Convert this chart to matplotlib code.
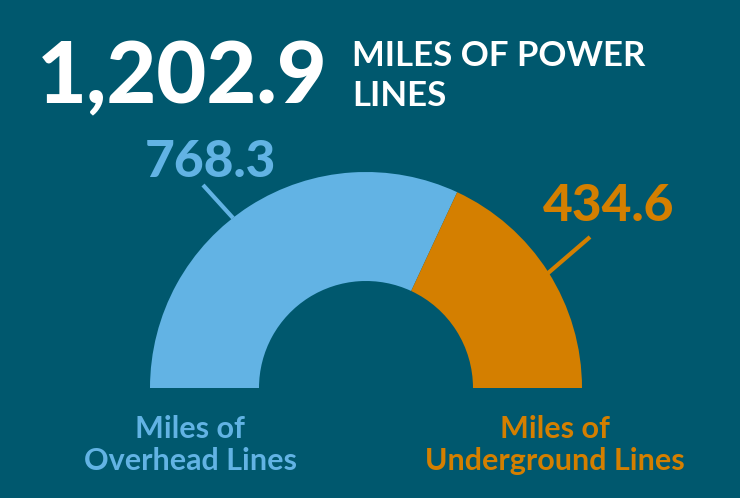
import matplotlib.pyplot as plt

# data
labels = [['Miles of', 'Overhead Lines'], ['Miles of', 'Underground Lines']]
miles = [768.3, 434.6]
total = 1202.9
colors = ['#62b3e4', '#d47f00']
bg = '#00586e'

plt.rcParams['font.family'] = ['Lato', 'DejaVu Sans']

fig = plt.figure(figsize=(7.4, 4.98), dpi=100)
fig.patch.set_facecolor(bg)
ax = fig.add_axes([0, 0, 1, 1])
ax.set_facecolor(bg)

# half donut: the hidden half carries the total so the visible part spans 180 degrees
ax.pie(miles + [total], colors=colors + ['none'], startangle=180, counterclock=False,
       radius=216, center=(366, 110), wedgeprops=dict(width=109, linewidth=0))
ax.set_xlim(0, 740)
ax.set_ylim(0, 498)
ax.set_aspect('equal')
ax.axis('off')

# headline
ax.text(37, 395, f'{total:,.1f}', color='white', fontsize=62, fontweight='black',
        va='baseline', ha='left')
ax.text(352, 432, 'MILES OF POWER', color='white', fontsize=25, fontweight='bold',
        va='baseline', ha='left')
ax.text(352, 392, 'LINES', color='white', fontsize=25, fontweight='bold',
        va='baseline', ha='left')

# values with leader lines
ax.text(210, 336, f'{miles[0]:.1f}', color=colors[0], fontsize=37, fontweight='black',
        ha='center', va='center')
ax.plot([203, 233], [313, 280], color=colors[0], lw=3, solid_capstyle='butt')
ax.text(609, 292, f'{miles[1]:.1f}', color=colors[1], fontsize=37, fontweight='black',
        ha='center', va='center')
ax.plot([590, 540], [261, 218], color=colors[1], lw=3, solid_capstyle='butt')

# category labels
for xc, lab, col in zip([190, 555], labels, colors):
    ax.text(xc, 60, lab[0], color=col, fontsize=22, fontweight='bold',
            ha='center', va='baseline')
    ax.text(xc, 28, lab[1], color=col, fontsize=22, fontweight='bold',
            ha='center', va='baseline')

fig.savefig('out.png', dpi=100, facecolor=bg)
